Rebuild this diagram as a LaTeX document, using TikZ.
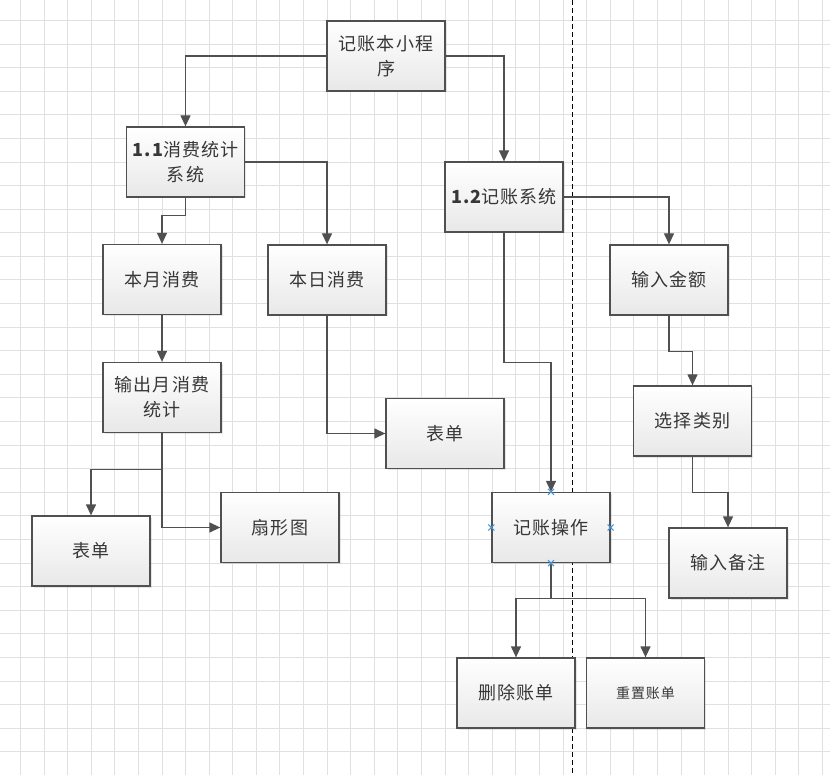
\documentclass[tikz,border=0pt]{standalone}
\usepackage{fontspec}
\newfontfamily\cjk[LetterSpace=6]{Noto Sans CJK SC}
\usetikzlibrary{arrows.meta,shadows}

\definecolor{gridgray}{RGB}{224,224,224}
\definecolor{boxline}{RGB}{80,80,80}
\definecolor{txtgray}{RGB}{55,55,55}
\definecolor{handle}{RGB}{70,150,215}

\tikzset{
  procbox/.style={draw=boxline, line width=1.3pt, top color=white, bottom color=black!9,
    minimum width=118pt, minimum height=70pt, inner sep=2pt, align=center,
    text=txtgray, font=\cjk\fontsize{18}{25}\selectfont,
    drop shadow={shadow xshift=1.5pt, shadow yshift=-1.5pt, opacity=0.2}},
  smallbox/.style={procbox, font=\cjk\fontsize{14}{20}\selectfont},
  conn/.style={draw=boxline, line width=1.3pt, -{Triangle[length=11pt,width=10pt]}},
  gridline/.style={draw=gridgray, line width=1pt},
  selmark/.style={draw=handle, line width=1.1pt}
}

\begin{document}
\begin{tikzpicture}[x=1pt,y=1pt,yscale=-1,xscale=1]
\useasboundingbox (0,0) rectangle (830,775);

% grid
\foreach \i in {0,...,34} \draw[gridline] (20.5+\i*23.59,0) -- (20.5+\i*23.59,775);
\foreach \j in {0,...,31} \draw[gridline] (0,20.5+\j*23.59) -- (830,20.5+\j*23.59);

% dashed divider
\draw[line width=1.2pt, dash pattern=on 5pt off 3pt] (572.7,0) -- (572.7,775);

% Boxes
\node[procbox] (app) at (386,56) {记账本小程\\序};
\node[procbox] (stat) at (185.5,162) {{\bfseries 1.1}消费统计\\系统};
\node[procbox] (acct) at (504,197) {{\bfseries 1.2}记账系统};
\node[procbox] (month) at (162,279.5) {本月消费};
\node[procbox] (day) at (327,280) {本日消费};
\node[procbox] (amount) at (669,280) {输入金额};
\node[procbox] (monthout) at (162,397.5) {输出月消费\\统计};
\node[procbox] (cat) at (692.5,421) {选择类别};
\node[procbox] (dayform) at (445,433.5) {表单};
\node[procbox] (op) at (551,527.5) {记账操作};
\node[procbox] (pie) at (280,527.5) {扇形图};
\node[procbox] (monthform) at (91,551) {表单};
\node[procbox] (note) at (728,563) {输入备注};
\node[procbox] (del) at (516,693) {删除账单};
\node[smallbox] (reset) at (645.5,693) {重置账单};

% Connectors
\draw[conn] (app.west) -| (stat.north);
\draw[conn] (app.east) -| (acct.north);
\draw[conn] (stat.south) -- ++(0,18) -| (month.north);
\draw[conn] (stat.east) -| (day.north);
\draw[conn] (day.south) |- (dayform.west);
\draw[conn] (month.south) -- (monthout.north);
\draw[conn] (monthout.south) -- ++(0,36) -| (monthform.north);
\draw[conn] (monthout.south) |- (pie.west);
\draw[conn] (acct.east) -| (amount.north);
\draw[conn] (acct.south) -- ++(0,130) -| (op.north);
\draw[conn] (op.south) -- ++(0,35) -| (del.north);
\draw[conn] (op.south) -- ++(0,35) -| (reset.north);
\draw[conn] (amount.south) -- ++(0,36) -| (cat.north);
\draw[conn] (cat.south) -- ++(0,35.5) -| (note.north);

% selection handles
\foreach \a in {north,south,east,west}
  \draw[selmark] ([shift={(-3,-3)}]op.\a) -- ++(6,6) ([shift={(-3,3)}]op.\a) -- ++(6,-6);

\end{tikzpicture}
\end{document}
